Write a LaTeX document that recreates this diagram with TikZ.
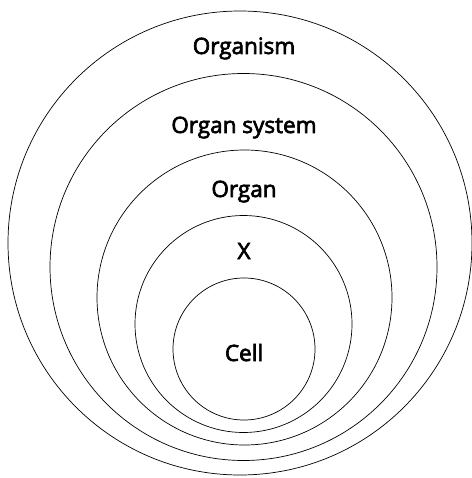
\documentclass[tikz,border=0pt]{standalone}
\usepackage{fontspec}
\newfontfamily\lblfont{Open Sans}[FakeBold=3]
\usepackage{tikz}
\usetikzlibrary{positioning}

\begin{document}
\begin{tikzpicture}[
                x=1pt, y=-1pt,
                ring/.style={
                    circle,
                    draw=black,
                    line width=0.7pt,
                    inner sep=0pt
                },
                lbl/.style={
                    anchor=base,
                    inner sep=0pt,
                    font=\lblfont\fontsize{22.5}{26}\selectfont
                }
            ]

            \useasboundingbox (0,0) rectangle (471,478);

            % Nested rings
            \node (organism) [ring, minimum size=464pt] at (240,243) {};
            \node (system) [ring, minimum size=387pt] at (243.5,267) {};
            \node (organ) [ring, minimum size=295pt] at (244.5,297.5) {};
            \node (tissue) [ring, minimum size=217pt] at (243.5,324) {};
            \node (cell) [ring, minimum size=142pt] at (244,349) {};

            % Labels
            \node (organismlbl) [lbl] at (244,54) {Organism};
            \node (systemlbl) [lbl] at (244,133) {Organ system};
            \node (organlbl) [lbl] at (244,197) {Organ};
            \node (tissuelbl) [lbl] at (244,259) {X};
            \node (celllbl) [lbl] at (244,361) {Cell};

            \end{tikzpicture}
\end{document}
